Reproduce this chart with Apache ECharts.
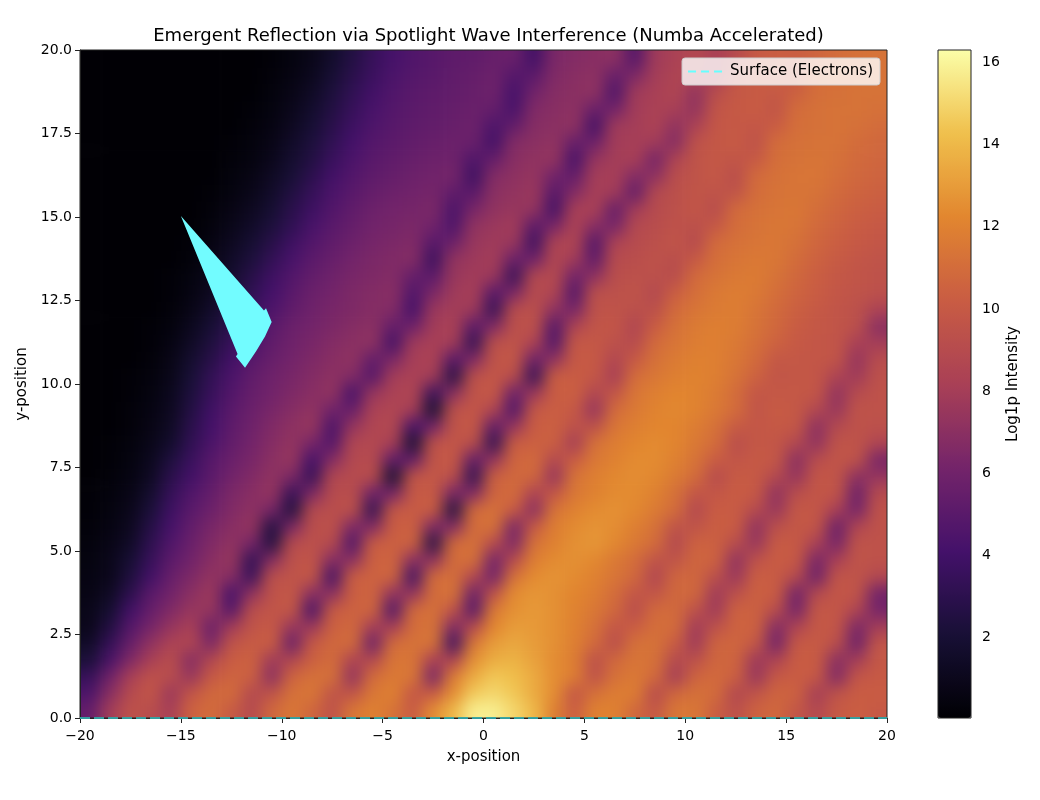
<!DOCTYPE html>
<html><head><meta charset="utf-8">
<script src="https://cdn.jsdelivr.net/npm/echarts@6/dist/echarts.min.js"></script>
<style>html,body{margin:0;background:#fff}#c{width:1040px;height:800px}</style></head>
<body><div id="c"></div>
<script>
const titleText = "Emergent Reflection via Spotlight Wave Interference (Numba Accelerated)";
const xCells = [-19.5,-18.5,-17.5,-16.5,-15.5,-14.5,-13.5,-12.5,-11.5,-10.5,-9.5,-8.5,-7.5,-6.5,-5.5,-4.5,-3.5,-2.5,-1.5,-0.5,0.5,1.5,2.5,3.5,4.5,5.5,6.5,7.5,8.5,9.5,10.5,11.5,12.5,13.5,14.5,15.5,16.5,17.5,18.5,19.5];
const yCells = [0.25,0.75,1.25,1.75,2.25,2.75,3.25,3.75,4.25,4.75,5.25,5.75,6.25,6.75,7.25,7.75,8.25,8.75,9.25,9.75,10.25,10.75,11.25,11.75,12.25,12.75,13.25,13.75,14.25,14.75,15.25,15.75,16.25,16.75,17.25,17.75,18.25,18.75,19.25,19.75];
// log1p intensity read by eye, one list per row, bottom row first
const intensityRows = [
[5.5,8,9.5,9.1,8.1,10.5,11,10.1,8.9,10.8,11.5,10.7,9.5,11.5,12,11.3,10.1,12.5,14,15.8,15.8,15,14,11.9,10.3,12,12,10.8,9.9,11.5,11.5,10.3,9.3,10.5,10.8,9.8,8.8,10,10.3,10],
[4.5,7,9,9.8,7.6,9.8,10.8,11,8.8,9.6,11.2,11.5,9.6,9.7,11.5,12,9.8,10.2,12.5,14.6,15,14.5,13.5,12.5,9.8,11.2,11.8,11.8,9,10.8,11.2,11,8.7,9.7,10.6,10.5,8,9.6,10.2,10.2],
[3.5,6,8.2,9.5,9.1,7.5,10,10.6,10.4,7,10.6,11.2,11.2,7.2,11,11.6,11.5,6.2,11.8,13.5,14.5,14.2,13.5,12.5,11.8,9.5,11.2,11.6,10.9,8,10.6,10.9,10.4,7.5,10,10.2,10,6.6,9.8,10],
[2.2,4.4,6.6,8.2,9.2,6.8,8.8,10.2,10.5,7.8,8.7,10.4,11,8.5,8.8,11.4,11.4,8.2,8.5,12.6,13.6,13.8,13.2,12.5,11.8,9.4,10.8,11.4,11.2,8.9,9.4,10.7,10.6,7.7,8.5,10.2,10.2,7,8,9.9],
[1.5,3.4,5.6,7.2,8.4,8.7,6.4,9.6,10.1,10.3,5.6,10,10.8,11,5.7,11,11.3,11.4,3.8,11.5,13,13.4,13,12.6,11.9,10.9,9.2,11.2,11.3,10.2,7.8,10.6,10.7,9.9,6,10,10.1,9.3,5.8,9.7],
[1,2.6,4.8,6.2,7.4,8.2,5.7,7.9,9.6,10,7.5,7.6,10.4,10.8,8,8,11,11.3,6.6,8.9,12.2,13,12.9,12.6,12,11.2,9.8,10.2,11.1,11,7.9,9.4,10.5,10.5,6.7,8.5,9.9,9.8,6.4,8],
[0.9,1.9,4,5.5,6.6,7.5,7.5,4.8,9.2,9.7,9.9,4.2,10.1,10.5,10.7,4.5,10.9,11.2,9.7,4.8,11.6,12.6,12.9,12.6,12.1,11.5,10.8,9.1,10.9,10.9,9.5,7.8,10.5,10.4,9.2,6.1,9.9,9.8,8.6,6.2],
[0.7,1.4,3,5,6,7,7.7,4.2,7.2,9.5,9.9,7,7,10.3,10.6,7.3,7.3,11,11.3,5.8,9.5,12.4,12.8,12.6,12.2,11.8,11,9.8,9.7,10.8,10.8,7.8,9.3,10.4,10.2,6,8.9,9.8,9.7,6],
[0.6,1,2.4,4,5.6,6.5,7.3,6.9,3.6,9.3,9.6,9.9,4,10.3,10.5,10.7,3.9,11,11.1,8.8,6,11.2,12.4,12.7,12.4,12,11.4,10.8,8.6,10.7,10.7,9.3,7.6,10.3,10.1,9,5.8,9.7,9.6,8.8],
[0.5,1,2,3.5,5.1,6,6.9,7.5,3.3,6.8,9.4,9.7,6.8,7,10.4,10.6,7,7.1,11,11.2,6.1,9,11.8,12.4,12.6,12.3,11.6,11,9.6,9.6,10.7,10.5,7.2,9.5,10.2,10,6.3,8.2,9.6,9.5],
[0.4,0.8,1.5,3.1,4.6,5.7,6.6,7.2,6.3,2.5,9,9.4,9,4.5,10.2,10.4,10.6,2.7,10.9,11.2,9.1,6.5,11.2,12,12.6,12.8,12.3,11.6,11,8.8,10.5,10.4,9.2,7.5,10.1,10,8.3,6.2,9.6,9.5],
[0.3,0.6,1.2,2.7,4.2,5.4,6.3,6.9,7.4,2.6,6.4,9.2,9.5,6.5,6.6,10.2,10.4,6.5,6.7,11,11.3,6.3,10,11.8,12.4,12.7,12.5,11.9,11.2,9.6,9.6,10.3,10.2,7.2,9.3,9.9,9.8,5.7,8.6,9.5],
[0.2,0.5,1,2.2,3.8,5,5.8,6.6,7.1,6.3,2.4,8.9,9.2,9.5,3.2,9.9,10.1,10.3,2.5,10.9,11.2,10.2,6.9,11.3,12,12.4,12.6,12.3,11.7,11,8.8,10.2,10.1,9,7.5,9.9,9.8,8.2,6.1,9.5],
[0.2,0.4,0.8,1.8,3.4,4.6,5.5,6.4,6.9,7.4,3.5,6.5,9,9.2,5.9,6.1,9.9,10.1,6.3,6.6,10.6,11,8.4,9.8,11.5,12,12.4,12.4,12,11.2,9.8,9.8,10.2,10,7.2,9.2,9.8,9.7,5.8,9],
[0.1,0.3,0.6,1.3,2.9,4,5.1,6,6.6,7.2,6.5,3.4,8.7,9,9.2,1.9,9.7,9.9,9.3,3.2,10.4,10.8,10.8,7.4,11.3,11.9,12.3,12.5,12.3,11.7,11,9,10.1,10,8.9,7.4,9.8,9.7,7.1,7.4],
[0.1,0.2,0.5,1.1,2.4,3.6,4.9,5.7,6.3,7,7.5,4.1,6.8,8.8,9,5.2,5.4,9.7,10,5.4,7.4,10.6,10.9,8.8,10.2,11.5,12,12.4,12.4,12,11.3,10.2,9.7,10,9.9,7,9.1,9.7,9.6,6.3],
[0.1,0.2,0.4,0.9,1.7,3.2,4.4,5.4,6.1,6.8,7.3,6.3,4.7,8.6,8.8,8.2,2,9.5,9.8,9.3,3.2,10.2,10.4,10.4,8,11.2,11.8,12.2,12.4,12.2,11.6,11,9.2,9.9,9.8,8.8,7.2,9.6,9.6,8.6],
[0.1,0.1,0.3,0.7,1.4,2.9,4.1,5.2,5.9,6.6,7.1,7.5,4.4,7.4,8.6,8.8,4.2,6.1,9.6,10,5.4,7.4,10.2,10.4,9.5,9.3,11.4,11.9,12.2,12.2,11.8,11.2,10.1,9.8,10,9.9,7.1,8.9,9.5,9.4],
[0.1,0.1,0.3,0.6,1.2,2.6,3.9,5,5.7,6.3,6.8,7.2,6,5.5,8.3,8.6,8.1,1.9,9.4,9.8,8.7,4.5,9.9,10.3,10,7.4,10.9,11.6,12.1,12.3,12.1,11.6,11,9.7,10.1,9.9,8.8,7.5,9.6,9.5],
[0.1,0.1,0.2,0.5,1.1,2.3,3.5,4.7,5.5,6,6.5,6.9,7.3,4.2,7.5,8.3,8.6,3.7,7,9.6,10,5.8,7.6,10.2,10.4,8.7,9.7,11.4,11.9,12.2,12.1,11.7,11,9.8,9.9,9.9,9.8,7.3,9,9.5],
[0.1,0.1,0.2,0.4,0.9,2.1,3.3,4.4,5.3,5.9,6.3,6.7,7.1,6.7,4.8,8,8.3,8,2.7,9.4,9.8,9.2,3.4,10.3,10.2,9.9,8.1,11,11.5,11.9,12.1,11.9,11.3,10.5,9.7,9.9,9.8,8.5,7.8,9.4],
[0.1,0.1,0.1,0.3,0.8,1.8,2.8,4,4.9,5.6,6.1,6.5,6.9,7.2,5.4,6.4,8.1,8.4,4.9,6.6,9.6,9.9,5.8,7.2,10,10,8.7,10,11.2,11.7,12,11.9,11.5,10.9,9.9,9.9,9.8,9.7,7.4,9.1],
[0.1,0.1,0.1,0.2,0.6,1.4,2.4,3.5,4.4,5.3,5.9,6.3,6.7,7,7.2,4,7.8,8.2,8,3.3,9.3,9.6,8.5,4.6,9.9,9.9,9.4,9,10.9,11.4,11.8,11.9,11.6,11.1,10.5,10,9.8,9.7,8.2,8],
[0.1,0.1,0.1,0.2,0.4,1.1,2,3.1,4,5,5.7,6.1,6.4,6.8,7,5.5,5.8,7.9,8.3,5.1,6.6,9.3,9.5,4.8,8.5,9.7,9.8,8.6,10.2,11.2,11.7,11.9,11.8,11.3,10.8,10.2,9.9,9.7,9.4,7],
[0.1,0.1,0.1,0.1,0.3,0.8,1.6,2.6,3.6,4.5,5.3,5.9,6.3,6.5,6.8,6.7,4.1,7.6,8,7.8,3.4,9.1,9.3,7.2,6.2,9.5,9.6,9.3,9.3,10.9,11.4,11.7,11.8,11.4,10.9,10.4,10,9.7,9.4,8.4],
[0.1,0.1,0.1,0.1,0.2,0.6,1.2,2.2,3.2,4.1,5,5.7,6.1,6.5,6.7,6.9,4.6,6.4,7.8,8.1,4.9,6.4,9,8.6,4.7,9.3,9.4,9.6,8.8,10.3,11.1,11.6,11.8,11.6,11.1,10.6,10.2,9.8,9.6,9.4],
[0.1,0.1,0.1,0.1,0.2,0.5,1,1.8,2.8,3.8,4.7,5.4,5.9,6.3,6.5,6.7,5.5,5.1,7.5,7.9,7.7,3.5,8.8,8.9,6,7.1,9.2,9.4,9.4,9.1,10.9,11.3,11.6,11.7,11.3,10.8,10.3,9.9,9.7,9.5],
[0.1,0.1,0.1,0.1,0.1,0.3,0.8,1.5,2.3,3.3,4.3,5.1,5.6,6.1,6.4,6.6,6.8,3.7,7.3,7.7,8,5.7,5.9,8.7,7.9,5.2,9,9.2,9.5,9.2,10,11.1,11.4,11.6,11.5,11,10.5,10.1,9.8,9.6],
[0.1,0.1,0.1,0.1,0.1,0.2,0.6,1.2,1.9,2.8,3.8,4.7,5.3,5.8,6.2,6.4,6.6,4.9,5.8,7.5,7.8,7.6,3.8,8.5,8.6,4.7,8.4,9,9.3,9.7,9,10.9,11.2,11.4,11.5,11.2,10.7,10.3,10,9.8],
[0.1,0.1,0.1,0.1,0.1,0.1,0.4,0.9,1.5,2.3,3.2,4.3,5,5.5,6,6.2,6.4,6,4.5,7.2,7.6,7.9,5.1,6.3,8.4,6.9,6.2,8.8,9.1,9.5,9.3,9.9,11,11.3,11.5,11.4,10.9,10.5,10.2,10],
[0.1,0.1,0.1,0.1,0.1,0.1,0.3,0.7,1.2,1.9,2.9,3.8,4.7,5.3,5.8,6.1,6.2,6.4,4.4,6.3,7.2,7.5,7.4,4,8.2,8.3,5.5,7.9,9,9.4,9.8,9.1,10.9,11.2,11.4,11.5,11.1,10.7,10.4,10.2],
[0.1,0.1,0.1,0.1,0.1,0.1,0.2,0.5,0.9,1.6,2.5,3.4,4.4,5,5.5,5.8,6,6.2,5.3,5,7,7.3,7.6,4.9,6.7,8.1,7.9,5.4,8.8,9.3,9.7,9.6,9.6,11,11.3,11.4,11.3,10.9,10.6,10.4],
[0.1,0.1,0.1,0.1,0.1,0.1,0.1,0.4,0.7,1.3,2.1,3,4,4.7,5.2,5.5,5.8,6,6.2,3.8,6.7,7.1,7.4,6,5.4,8,8.1,6.7,7.1,9.2,9.6,9.9,9.2,10.9,11.2,11.4,11.4,11.1,10.8,10.6],
[0.1,0.1,0.1,0.1,0.1,0.1,0.1,0.3,0.5,1,1.8,2.6,3.6,4.4,5,5.3,5.6,5.8,5.9,4.6,5.5,6.9,7.2,7.4,4.2,7.4,8,8.2,6.2,8.5,9.6,9.9,9.7,10,11.1,11.3,11.4,11.2,10.9,10.7],
[0.1,0.1,0.1,0.1,0.1,0.1,0.1,0.2,0.4,0.8,1.5,2.3,3.2,4.1,4.8,5.1,5.4,5.6,5.8,5.7,4,6.7,7,7.2,5.6,5.8,7.9,8.1,7.9,6.8,9.5,9.9,10.1,9.5,11,11.2,11.3,11.3,11,10.8],
[0.1,0.1,0.1,0.1,0.1,0.1,0.1,0.1,0.3,0.6,1.2,2,2.9,3.8,4.5,4.9,5.2,5.4,5.6,5.8,4.5,5.4,6.8,7,7.2,4,7.8,8,8.4,7.2,8.3,9.8,10,9.8,10.2,11.1,11.2,11.3,11.2,11],
[0.1,0.1,0.1,0.1,0.1,0.1,0.1,0.1,0.2,0.5,1,1.7,2.6,3.5,4.3,4.8,5.1,5.3,5.5,5.7,5.5,4.3,6.6,6.9,7.1,5.7,6,7.9,8.3,8.2,7.3,9.7,10,10.2,9.7,11,11.2,11.3,11.3,11.2],
[0.1,0.1,0.1,0.1,0.1,0.1,0.1,0.1,0.1,0.4,0.8,1.4,2.3,3.2,4,4.6,5,5.2,5.4,5.6,5.9,4.2,6,6.8,7,7.2,4.5,7.8,8.2,8.6,7.3,9.1,9.9,10.1,10,10.4,11.1,11.2,11.3,11.3],
[0.1,0.1,0.1,0.1,0.1,0.1,0.1,0.1,0.1,0.3,0.6,1.1,2,2.9,3.7,4.4,4.8,5,5.3,5.5,5.8,4.8,5.1,6.6,6.9,7.1,5.6,6.5,8,8.5,8.6,7.9,9.8,10.1,10.4,10,11,11.1,11.2,11.3],
[0.1,0.1,0.1,0.1,0.1,0.1,0.1,0.1,0.1,0.2,0.5,0.9,1.7,2.6,3.5,4.2,4.6,4.9,5.2,5.3,5.6,5.7,4,6.4,6.7,6.9,7.1,4.8,7.8,8.3,8.8,8.2,9,10,10.3,10.3,10.6,11,11.2,11.3]
];
const spotX = [-15,-10.88,-10.78,-10.5,-10.83,-11.28,-11.82,-12.27,-12.19];
const spotY = [15.03,12.2,12.27,11.86,11.42,10.97,10.49,10.82,10.9];
const surfaceX = [-20,20];
const surfaceY = [0,0];
const colorStops = ['#000004','#181036','#44116a','#74246a','#a94056','#c95c43','#e2862f','#f0c04c','#fbfea8'];
const colorTicks = [2,4,6,8,10,12,14,16];
const minus = v => String(v).replace('-', '\u2212');

const cells = [];
intensityRows.forEach((row, j) => row.forEach((v, i) => cells.push([xCells[i], yCells[j], v])));
const font = 'DejaVu Sans';
const tickStyle = {color:'#000', fontFamily:font, fontSize:14};
const nameStyle = {fontFamily:font, fontSize:15, color:'#000'};
const chart = echarts.init(document.getElementById('c'), null, {renderer:'canvas'});
chart.setOption({
  animation:false,
  title:{text:titleText, left:483.5, top:22, textAlign:'center', textStyle:{fontFamily:font, fontSize:18, fontWeight:'normal', color:'#000'}},
  grid:[
    {left:80, top:50, width:807, height:668, show:true, borderColor:'#222', borderWidth:1, backgroundColor:'transparent'},
    {left:938, top:50, width:33, height:668, show:true, borderColor:'#222', borderWidth:1, backgroundColor:'transparent', z:10}
  ],
  xAxis:[
    {type:'value', gridIndex:0, min:-20, max:20, interval:5, name:'x-position', nameLocation:'middle', nameGap:32,
     nameTextStyle:nameStyle,
     splitLine:{show:false}, axisLine:{onZero:false, lineStyle:{color:'#222'}}, axisTick:{length:5, lineStyle:{color:'#222'}},
     axisLabel:{...tickStyle, margin:11, formatter:v=>minus(v), showMinLabel:true, showMaxLabel:true, hideOverlap:false}},
    {type:'value', gridIndex:1, min:0, max:1, show:false}
  ],
  yAxis:[
    {type:'value', gridIndex:0, min:0, max:20, interval:2.5, name:'y-position', nameLocation:'middle', nameGap:48, nameRotate:90,
     nameTextStyle:nameStyle,
     splitLine:{show:false}, axisLine:{onZero:false, lineStyle:{color:'#222'}}, axisTick:{length:5, lineStyle:{color:'#222'}},
     axisLabel:{...tickStyle, margin:8, padding:[3,0,0,0], formatter:v=>v.toFixed(1), showMinLabel:true, showMaxLabel:true, hideOverlap:false}},
    {type:'value', gridIndex:1, position:'right', min:0.05, max:16.3, name:'Log1p Intensity', nameLocation:'middle', nameGap:35, nameRotate:90,
     nameTextStyle:nameStyle,
     splitLine:{show:false}, axisLine:{show:false},
     axisTick:{show:true, length:5, customValues:colorTicks, lineStyle:{color:'#222'}},
     axisLabel:{...tickStyle, margin:11, padding:[3,0,0,0], customValues:colorTicks, formatter:v=>String(v)}}
  ],
  visualMap:{type:'continuous', seriesIndex:0, dimension:2, min:0.05, max:16.3, left:938, top:50, itemWidth:33, itemHeight:668,
    padding:0, calculable:false, text:null, showLabel:false, hoverLink:false, realtime:false, inRange:{color:colorStops}},
  legend:{data:['Surface (Electrons)'], right:160, top:58, padding:[6,7,6,5], itemWidth:37, itemHeight:14, itemGap:12,
    backgroundColor:'rgba(255,255,255,0.8)', borderColor:'#ccc', borderWidth:1, borderRadius:3,
    itemStyle:{color:'transparent', borderColor:'transparent', opacity:0},
    lineStyle:{color:'#66ffff', width:2, type:[8,5], opacity:1},
    textStyle:{fontFamily:font, fontSize:15, color:'#000'}, selectedMode:false},
  series:[
    {type:'custom', name:'Intensity', xAxisIndex:0, yAxisIndex:0, clip:false, data:cells, encode:{x:0,y:1},
     silent:true, progressive:0, zlevel:-1,
     renderItem:(p, api)=>{
       const vx = api.value(0), vy = api.value(1);
       const c = api.coord([vx-0.5, vy+0.25]);
       const s = api.size([1,0.5]);
       const grow = 30;
       const l = vx === xCells[0] ? grow : 0, r = vx === xCells[xCells.length-1] ? grow : 0;
       const t = vy === yCells[yCells.length-1] ? grow : 0, b = vy === yCells[0] ? grow : 0;
       return {type:'rect', shape:{x:c[0]-l, y:c[1]-t, width:s[0]+0.6+l+r, height:s[1]+0.6+t+b}, style:{fill:api.visual('color')}};
     }},
    {type:'custom', name:'Spot', xAxisIndex:0, yAxisIndex:0, clip:true, silent:true, z:3,
     data:spotX.map((x,i)=>[x,spotY[i]]), encode:{x:0,y:1},
     renderItem:(p, api)=>{
       if (p.dataIndex !== 0) return null;
       return {type:'polygon', shape:{points:spotX.map((x,i)=>api.coord([x,spotY[i]]))}, style:{fill:'#72fcff'}};
     }},
    {type:'line', name:'Surface (Electrons)', xAxisIndex:0, yAxisIndex:0, z:4, symbol:'none', clip:false, silent:true,
     data:surfaceX.map((x,i)=>[x,surfaceY[i]]),
     lineStyle:{color:'#33aaaa', width:2, type:[10,4], opacity:0.9}, itemStyle:{color:'#66ffff'}}
  ]
});
// soften the cell grid of the image layer, as the reference's interpolated image is, and keep it inside the axes
const heatLayer = chart.getZr().painter.getLayer(-1);
heatLayer.dom.style.filter = 'blur(8px)';
heatLayer.dom.style.clipPath = 'inset(50px 153px 82px 80px)';
</script></body></html>
